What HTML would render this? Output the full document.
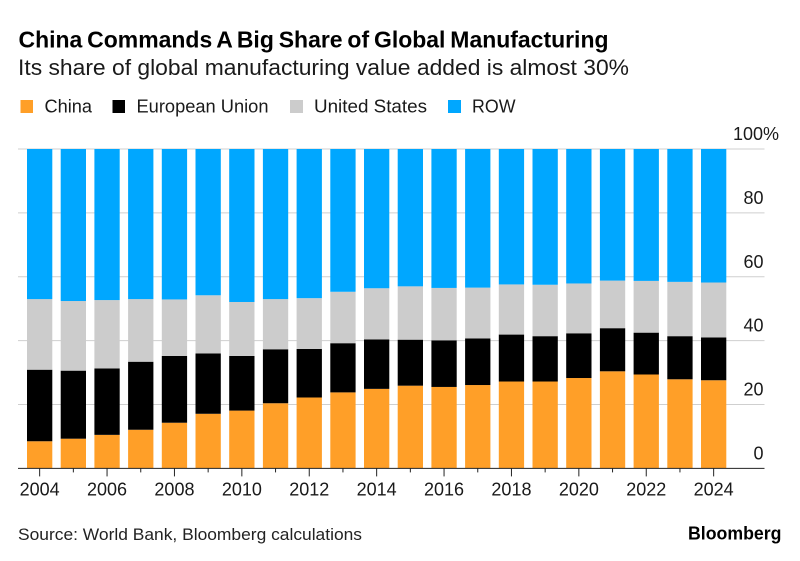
<!DOCTYPE html>
<html lang="en">
<head>
<meta charset="utf-8">
<title>China Commands A Big Share of Global Manufacturing</title>
<style>
html,body{margin:0;padding:0;background:#fff;}
svg{display:block;}
text{font-family:"Liberation Sans",sans-serif;}
</style>
</head>
<body>
<svg id="chart" xmlns="http://www.w3.org/2000/svg" width="800" height="561" viewBox="0 0 800 561">
  <rect width="800" height="561" fill="#fff"/>
  <text x="18.500" y="47.500" font-size="23" font-weight="700" fill="#000" word-spacing="-1.500" textLength="590" lengthAdjust="spacingAndGlyphs">China Commands A Big Share of Global Manufacturing</text>
  <text x="18" y="75" font-size="22.500" fill="#1a1a1a" textLength="611" lengthAdjust="spacingAndGlyphs">Its share of global manufacturing value added is almost 30%</text>

  <g>
    <g>
      <rect x="20.500" y="100" width="12.500" height="13" fill="#ff9f28"/>
      <text x="44.500" y="112.300" font-size="18" fill="#1a1a1a" textLength="47.500" lengthAdjust="spacingAndGlyphs">China</text>
    </g>
    <g>
      <rect x="112.500" y="100" width="12.500" height="13" fill="#000"/>
      <text x="136.500" y="112.300" font-size="18" fill="#1a1a1a" textLength="132" lengthAdjust="spacingAndGlyphs">European Union</text>
    </g>
    <g>
      <rect x="290" y="100" width="13" height="13" fill="#cccccc"/>
      <text x="314" y="112.300" font-size="18" fill="#1a1a1a" textLength="113" lengthAdjust="spacingAndGlyphs">United States</text>
    </g>
    <g>
      <rect x="448" y="100" width="13" height="13" fill="#00a7ff"/>
      <text x="472" y="112.300" font-size="18" fill="#1a1a1a" textLength="43.500" lengthAdjust="spacingAndGlyphs">ROW</text>
    </g>
  </g>

  <g id="grid"></g>
  <g id="bars"></g>
  <g id="yAxis"></g>
  <g id="xAxis"></g>

  <text x="18" y="540" font-size="17" fill="#222" textLength="344" lengthAdjust="spacingAndGlyphs">Source: World Bank, Bloomberg calculations</text>
  <text x="688" y="539.500" font-size="18" font-weight="700" fill="#000" textLength="93.500" lengthAdjust="spacingAndGlyphs">Bloomberg</text>
</svg>
<script>
const years = [2004,2005,2006,2007,2008,2009,2010,2011,2012,2013,2014,2015,2016,2017,2018,2019,2020,2021,2022,2023,2024];
const china = [8.5,9.3,10.5,12.1,14.3,17.1,18.1,20.4,22.2,23.8,24.9,25.9,25.5,26.1,27.2,27.2,28.3,30.4,29.4,27.9,27.6];
const europeanUnion = [22.4,21.3,20.8,21.3,20.9,18.9,17.1,16.9,15.2,15.4,15.5,14.4,14.6,14.6,14.7,14.2,14.0,13.5,13.1,13.5,13.4];
const unitedStates = [22.1,21.8,21.4,19.6,17.7,18.2,16.9,15.7,15.9,16.1,16.0,16.7,16.4,15.9,15.7,16.1,15.6,14.9,16.2,17.0,17.2];
const row = [47.0,47.6,47.3,47.0,47.1,45.8,47.9,47.0,46.7,44.7,43.6,43.0,43.5,43.4,42.4,42.5,42.1,41.2,41.3,41.6,41.8];
const yTicks = [0,20,40,60,80,100];
const xLabelYears = [2004,2006,2008,2010,2012,2014,2016,2018,2020,2022,2024];

const NS = 'http://www.w3.org/2000/svg';
const plotLeft = 18, plotRight = 764.500, yBase = 468.4, yTop = 149;
const firstBarLeft = 27, barStep = 33.7, barWidth = 25.3;
const yScale = v => yBase - (v / 100) * (yBase - yTop);
const xCenter = i => firstBarLeft + barWidth / 2 + i * barStep;
function make(tag, attrs, parent) {
  const el = document.createElementNS(NS, tag);
  for (const k in attrs) el.setAttribute(k, attrs[k]);
  parent.appendChild(el);
  return el;
}
const gridG = document.getElementById('grid');
const barsG = document.getElementById('bars');
const yG = document.getElementById('yAxis');
const xG = document.getElementById('xAxis');

yTicks.forEach(t => {
  if (t > 0) {
    const line = make('line', {x1: plotLeft, x2: plotRight, y1: yScale(t), y2: yScale(t), stroke: '#cfcfcf', 'stroke-width': 1}, gridG);
    
    
  }
  const label = make('text', {x: 763.5, y: yScale(t) - 9, 'font-size': 18, fill: '#1a1a1a', 'text-anchor': 'end'}, yG);
  
  
  label.textContent = t;
  if (t === 100) {
    label.textContent = '100%';
    label.setAttribute('x', 779);
  }
});

const stacks = [
  {key: 'china', values: china, color: '#ff9f28'},
  {key: 'european-union', values: europeanUnion, color: '#000000'},
  {key: 'united-states', values: unitedStates, color: '#cccccc'},
  {key: 'row', values: row, color: '#00a7ff'}
];
years.forEach((year, i) => {
  let base = 0;
  stacks.forEach(s => {
    const top = base + s.values[i];
    const rect = make('rect', {x: firstBarLeft + i * barStep, y: yScale(top), width: barWidth, height: yScale(base) - yScale(top), fill: s.color}, barsG);
    
    
    base = top;
  });
});

const axisLine = make('line', {x1: plotLeft, x2: plotRight, y1: yBase, y2: yBase, stroke: '#222', 'stroke-width': 1}, xG);



years.forEach((year, i) => {
  const major = xLabelYears.includes(year);
  const tick = make('line', {x1: xCenter(i), x2: xCenter(i), y1: yBase, y2: yBase + (major ? 8 : 4), stroke: '#222', 'stroke-width': 1}, xG);
  
  
  if (major) {
    const label = make('text', {x: xCenter(i), y: 495.5, 'font-size': 18, fill: '#1a1a1a', 'text-anchor': 'middle'}, xG);
    
    
    label.textContent = year;
  }
});
</script>
</body>
</html>
